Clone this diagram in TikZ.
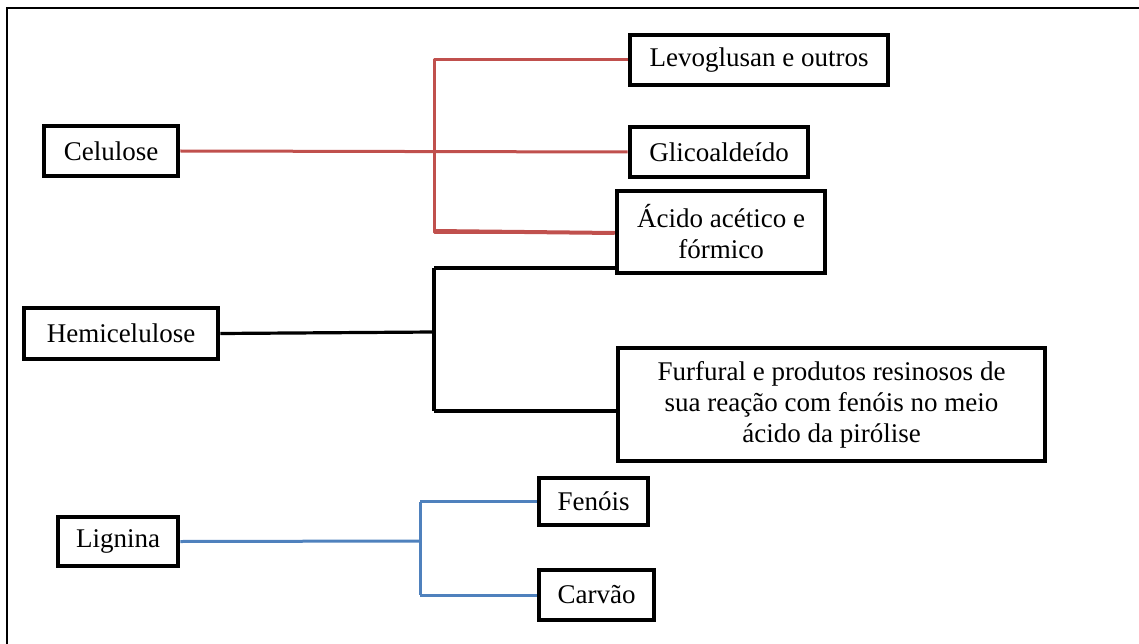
\documentclass[tikz,border=0pt]{standalone}
\usepackage{fontspec}
\setmainfont{Liberation Serif}
\usetikzlibrary{backgrounds}
\definecolor{redline}{HTML}{C0504D}
\definecolor{blueline}{HTML}{4F81BD}
\begin{document}
\begin{tikzpicture}[x=1pt,y=-1pt,
  box/.style={draw=black, line width=4.7pt, fill=white, inner sep=0pt, align=center,
    font=\fontsize{27}{31}\selectfont},
  redc/.style={draw=redline, line width=3pt},
  blackc/.style={draw=black, line width=3.2pt},
  bluec/.style={draw=blueline, line width=3pt}]
\useasboundingbox (0,0) rectangle (1139,644);
% outer frame (cropped)
\draw[line width=1.5pt] (7,644) -- (7,8) -- (1139,8);

% nodes
\node[box, minimum width=134pt, minimum height=50pt] (cel) at (111,151) {Celulose};
\node[box, minimum width=258pt, minimum height=50pt] (lev) at (759,60) {Levoglusan e outros};
\node[box, minimum width=178pt, minimum height=50pt] (gli) at (719,152) {Glicoaldeído};
\node[box, minimum width=208pt, minimum height=82pt] (aci) at (721,232) {Ácido acético e\\fórmico};
\node[box, minimum width=194pt, minimum height=51pt] (hem) at (121,333.5) {Hemicelulose};
\node[box, minimum width=427pt, minimum height=113pt] (fur) at (831.5,404.5) {Furfural e produtos resinosos de\\sua reação com fenóis no meio\\ácido da pirólise};
\node[box, minimum width=120pt, minimum height=49pt] (lig) at (118,541.5) {Lignina};
\node[box, minimum width=109pt, minimum height=47pt] (fen) at (593.5,501.5) {Fenóis};
\node[box, minimum width=115pt, minimum height=50pt] (car) at (596.5,595) {Carvão};

% junction coordinates
\coordinate (rj) at (434,151);
\coordinate (bt) at (434,268);
\coordinate (bj) at (434,332);
\coordinate (bb) at (434,411);
\coordinate (lj) at (420,541);

\begin{scope}[on background layer]
% celulose tree (red)
\draw[redc] (cel.east) -- (gli.west);
\draw[redc, line join=round] (lev.west) -| (rj) |- ([yshift=-1pt]aci.west);
\draw[redline, line width=4pt] (rj |- aci.west) ++(0,-1) -- ([yshift=-1pt]aci.west);
% hemicelulose tree (black)
\draw[blackc] (hem.east) -- (bj);
\draw[blackc] (bt) -- (bb);
\draw[blackc] (bt) -- (aci.west |- bt);
\draw[blackc] (bb) -- (fur.west |- bb);
% lignina tree (blue)
\draw[bluec] (lig.east) -- (lj);
\draw[bluec] (lj |- fen.west) -- (fen.west);
\draw[bluec] (lj |- car.west) -- (car.west);
\draw[bluec] (lj |- fen.west) -- (lj |- car.west);
\end{scope}
\end{tikzpicture}
\end{document}
